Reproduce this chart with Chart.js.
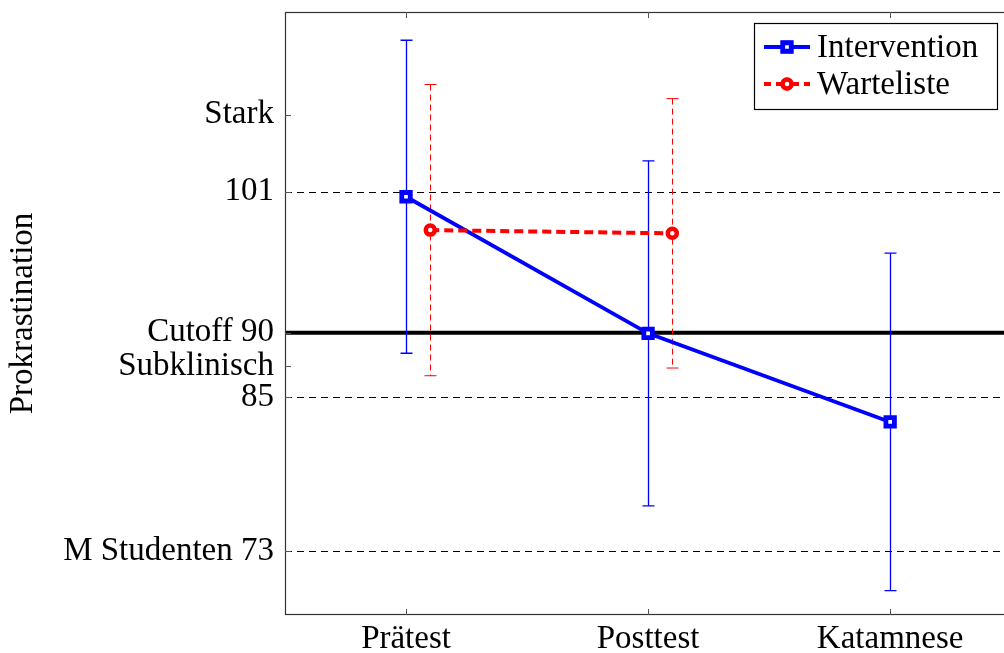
<!DOCTYPE html>
<html>
<head>
<meta charset="utf-8">
<script src="https://cdn.jsdelivr.net/npm/chart.js@4.4.1/dist/chart.umd.min.js"></script>
<style>
  html, body { margin: 0; padding: 0; background: #fff; overflow: hidden; }
  #wrap { width: 1004px; height: 653px; overflow: hidden; }
</style>
</head>
<body>
<div id="wrap"><canvas id="chart" width="1022" height="653"></canvas></div>
<script>
const categories = ['Prätest', 'Posttest', 'Katamnese'];

const interventionMean = [100.6, 89.95, 83.05];
const interventionSD = [12.2, 13.45, 13.15];

const wartelisteMean = [98.0, 97.75];
const wartelisteSD = [11.35, 10.5];

const yTickValues = [73, 85, 87.4, 90, 101, 107];
const yTickLabels = ['M Studenten 73', '85', 'Subklinisch', 'Cutoff 90', '101', 'Stark'];

const dashedLines = [101, 85, 73];
const cutoffValue = 90;

const fontFamily = '"Liberation Serif", "Times New Roman", serif';
const fontSize = 33;
const blue = 'rgb(0, 0, 255)';
const red = 'rgb(255, 0, 0)';
const wartelisteShift = 0.1;

const errorBars = [
    { mean: interventionMean, sd: interventionSD, shift: 0, color: blue, width: 1.3, dash: [] },
    { mean: wartelisteMean, sd: wartelisteSD, shift: wartelisteShift, color: red, width: 1, dash: [6, 4] }
];

const backgroundPlugin = {
    id: 'background',
    beforeDatasetsDraw(chart) {
        const ctx = chart.ctx;
        const area = chart.chartArea;
        const x = chart.scales.x;
        const y = chart.scales.y;
        ctx.save();
        ctx.beginPath();
        ctx.rect(area.left, area.top, area.right - area.left, area.bottom - area.top);
        ctx.clip();

        // dashed reference lines
        ctx.strokeStyle = '#000';
        ctx.lineWidth = 1;
        ctx.setLineDash([7, 5]);
        dashedLines.forEach(v => {
            const py = Math.round(y.getPixelForValue(v)) + 0.5;
            ctx.beginPath();
            ctx.moveTo(area.left, py);
            ctx.lineTo(area.right, py);
            ctx.stroke();
        });

        // cutoff line
        ctx.setLineDash([]);
        ctx.lineWidth = 4;
        const cy = y.getPixelForValue(cutoffValue);
        ctx.beginPath();
        ctx.moveTo(area.left, cy);
        ctx.lineTo(area.right, cy);
        ctx.stroke();

        // error bars
        errorBars.forEach(bar => {
            ctx.strokeStyle = bar.color;
            ctx.lineWidth = bar.width;
            bar.mean.forEach((m, i) => {
                const px = Math.round(x.getPixelForValue(i + bar.shift)) + 0.5;
                const top = y.getPixelForValue(m + bar.sd[i]);
                const bottom = y.getPixelForValue(m - bar.sd[i]);
                ctx.setLineDash(bar.dash);
                ctx.beginPath();
                ctx.moveTo(px, top);
                ctx.lineTo(px, bottom);
                ctx.stroke();
                ctx.setLineDash([]);
                ctx.beginPath();
                ctx.moveTo(px - 6, top);
                ctx.lineTo(px + 6, top);
                ctx.moveTo(px - 6, bottom);
                ctx.lineTo(px + 6, bottom);
                ctx.stroke();
            });
        });
        ctx.restore();
    },
    afterDraw(chart) {
        const ctx = chart.ctx;
        const area = chart.chartArea;
        const x = chart.scales.x;
        const y = chart.scales.y;
        ctx.save();

        // frame
        ctx.strokeStyle = '#333';
        ctx.lineWidth = 1.2;
        ctx.strokeRect(area.left + 0.5, area.top + 0.5, area.right - area.left - 1, area.bottom - area.top - 1);

        // inward ticks
        ctx.strokeStyle = '#555';
        ctx.lineWidth = 1;
        yTickValues.forEach(v => {
            const py = Math.round(y.getPixelForValue(v)) + 0.5;
            ctx.beginPath();
            ctx.moveTo(area.left, py);
            ctx.lineTo(area.left + 6, py);
            ctx.moveTo(area.right, py);
            ctx.lineTo(area.right - 6, py);
            ctx.stroke();
        });
        categories.forEach((c, i) => {
            const px = Math.round(x.getPixelForValue(i)) + 0.5;
            ctx.beginPath();
            ctx.moveTo(px, area.top);
            ctx.lineTo(px, area.top + 6);
            ctx.moveTo(px, area.bottom);
            ctx.lineTo(px, area.bottom - 6);
            ctx.stroke();
        });

        // legend
        const lx = 754, ly = 23, lw = 243, lh = 86;
        ctx.fillStyle = '#fff';
        ctx.fillRect(lx, ly, lw, lh);
        ctx.strokeStyle = '#000';
        ctx.lineWidth = 1.2;
        ctx.strokeRect(lx + 0.5, ly + 0.5, lw, lh);
        const rows = [47, 84];
        chart.data.datasets.forEach((ds, i) => {
            const ry = rows[i];
            ctx.strokeStyle = ds.borderColor;
            ctx.lineWidth = ds.borderWidth;
            ctx.setLineDash(ds.borderDash || []);
            ctx.lineDashOffset = ds.borderDash ? 2 : 0;
            ctx.beginPath();
            ctx.moveTo(764, ry);
            ctx.lineTo(810, ry);
            ctx.stroke();
            ctx.setLineDash([]);
            Chart.helpers.drawPoint(ctx, {
                pointStyle: ds.pointStyle,
                radius: ds.pointRadius,
                borderWidth: ds.pointBorderWidth,
                rotation: 0
            }, 787, ry);
            ctx.fillStyle = ds.pointBackgroundColor;
            ctx.strokeStyle = ds.borderColor;
            ctx.lineWidth = ds.pointBorderWidth;
            ctx.fill();
            ctx.stroke();
            ctx.fillStyle = '#000';
            ctx.font = fontSize + 'px ' + fontFamily;
            ctx.textBaseline = 'middle';
            ctx.textAlign = 'left';
            ctx.fillText(ds.label, 817, ry + 1);
        });
        ctx.restore();
    }
};

new Chart(document.getElementById('chart'), {
    type: 'line',
    data: {
        datasets: [{
            label: 'Intervention',
            data: interventionMean.map((v, i) => ({ x: i, y: v })),
            borderColor: blue,
            borderWidth: 3.8,
            pointStyle: 'rect',
            pointRadius: 6,
            pointBorderWidth: 4.8,
            pointBackgroundColor: '#fff',
            pointBorderColor: blue,
            tension: 0,
            order: 1
        }, {
            label: 'Warteliste',
            data: wartelisteMean.map((v, i) => ({ x: i + wartelisteShift, y: v })),
            borderColor: red,
            borderWidth: 4,
            borderDash: [9, 5],
            pointStyle: 'circle',
            pointRadius: 4.5,
            pointBorderWidth: 4.5,
            pointBackgroundColor: '#fff',
            pointBorderColor: red,
            tension: 0,
            order: 0
        }]
    },
    options: {
        responsive: false,
        animation: false,
        devicePixelRatio: 1,
        layout: { padding: { top: 12, right: 0, left: 0, bottom: 0 } },
        plugins: {
            legend: { display: false },
            tooltip: { enabled: false }
        },
        scales: {
            x: {
                type: 'linear',
                min: -0.5,
                max: 2.5,
                afterBuildTicks: scale => { scale.ticks = categories.map((c, i) => ({ value: i })); },
                afterFit: scale => {
                    scale.height = 38;
                    scale.paddingLeft = 0;
                    scale.paddingRight = 0;
                },
                ticks: {
                    callback: v => categories[v],
                    color: '#000',
                    padding: 0,
                    maxRotation: 0,
                    autoSkip: false,
                    font: { family: fontFamily, size: fontSize, lineHeight: 1 }
                },
                grid: { display: false },
                border: { display: false }
            },
            y: {
                type: 'linear',
                min: 68,
                max: 115,
                afterBuildTicks: scale => { scale.ticks = yTickValues.map(v => ({ value: v })); },
                afterFit: scale => {
                    scale.width = 285;
                    scale.paddingTop = 0;
                    scale.paddingBottom = 0;
                },
                ticks: {
                    callback: v => yTickLabels[yTickValues.indexOf(v)],
                    color: '#000',
                    padding: 3,
                    autoSkip: false,
                    font: { family: fontFamily, size: fontSize, lineHeight: 1 }
                },
                title: {
                    display: true,
                    text: 'Prokrastination',
                    color: '#000',
                    padding: { top: 4, bottom: 0 },
                    font: { family: fontFamily, size: fontSize }
                },
                grid: { display: false },
                border: { display: false }
            }
        }
    },
    plugins: [backgroundPlugin]
});
</script>
</body>
</html>
